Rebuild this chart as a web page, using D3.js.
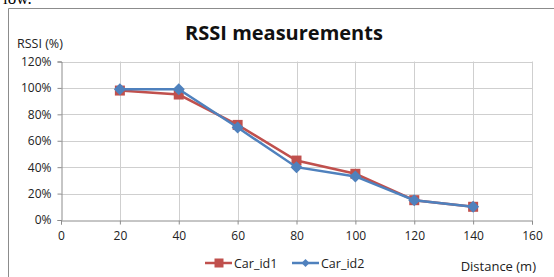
<!DOCTYPE html>
<html>
<head>
<meta charset="utf-8">
<script src="https://cdn.jsdelivr.net/npm/d3@7"></script>
<style>
  body { margin: 0; background: #fff; }
  svg { display: block; }
</style>
</head>
<body>
<div id="chart"></div>
<script>

var distances = [20, 40, 60, 80, 100, 120, 140];
var carId1 = [98, 95, 72, 45, 35, 15, 10];
var carId2 = [99, 99, 70, 40, 33, 15, 10];
var xTicks = [0, 20, 40, 60, 80, 100, 120, 140, 160];
var yTicks = [0, 20, 40, 60, 80, 100, 120];

var W = 554, H = 277;
var font = "'Open Sans', 'Liberation Sans', sans-serif";

var svg = d3.select("#chart").append("svg")
    .attr("width", W)
    .attr("height", H)

// bit of the page text above the chart, cut by the crop
svg.append("text")
    .text("low.")
    .attr("x", 3)
    .attr("y", 4)
    .attr("font-family", "'Liberation Serif', serif")
    .attr("font-size", "17px")
    .attr("fill", "#000")

// chart frame (runs off the right and bottom)
svg.append("path")
    .attr("d", "M8.5," + (H + 2) + " L8.5,8.5 L" + (W + 2) + ",8.5")
    .attr("fill", "none")
    .attr("stroke", "#8c8c8c")
    .attr("stroke-width", 1)

var x = d3.scaleLinear().domain([0, 160]).range([61, 532]);
var y = d3.scaleLinear().domain([0, 120]).range([220, 61.5]);

// grid
svg.append("g").selectAll("line.v")
    .data(xTicks.slice(1))
    .enter()
    .append("line")
    .attr("x1", function(d){ return Math.round(x(d)) + 0.5 })
    .attr("x2", function(d){ return Math.round(x(d)) + 0.5 })
    .attr("y1", y(120))
    .attr("y2", y(0))
    .attr("stroke", "#cfcfcf")

svg.append("g").selectAll("line.h")
    .data(yTicks.slice(1))
    .enter()
    .append("line")
    .attr("x1", x(0))
    .attr("x2", x(160))
    .attr("y1", function(d){ return Math.round(y(d)) + 0.5 })
    .attr("y2", function(d){ return Math.round(y(d)) + 0.5 })
    .attr("stroke", "#cfcfcf")

// axes
var yAxis = d3.axisLeft(y)
    .tickValues(yTicks)
    .tickSize(4)
    .tickPadding(6)
    .tickFormat(function(d){ return d + "%" });

var xAxis = d3.axisBottom(x)
    .tickValues(xTicks)
    .tickSize(4)
    .tickPadding(7);

var gy = svg.append("g")
    .attr("transform", "translate(" + (Math.round(x(0)) + 0.5) + ",0)")
    .call(yAxis);

var gx = svg.append("g")
    .attr("transform", "translate(0," + (Math.round(y(0)) + 0.5) + ")")
    .call(xAxis);

[gx, gy].forEach(function(g){
    g.select(".domain").attr("stroke", "#8c8c8c");
    g.selectAll(".tick line").attr("stroke", "#8c8c8c");
    g.selectAll(".tick text")
        .attr("font-family", font)
        .attr("font-size", "12px")
        .attr("fill", "#222");
});

// series
var series = [
    {name: "Car_id1", values: carId1, color: "#C0504D", marker: "square"},
    {name: "Car_id2", values: carId2, color: "#4F81BD", marker: "diamond"}
];

var line = d3.line()
    .x(function(d){ return x(d[0]) })
    .y(function(d){ return y(d[1]) });

function drawMarker(g, kind, cx, cy, color){
    if(kind == "square"){
        g.append("rect")
            .attr("x", cx - 5)
            .attr("y", cy - 5)
            .attr("width", 10)
            .attr("height", 10)
            .attr("fill", color)
    } else {
        g.append("path")
            .attr("d", "M" + cx + "," + (cy - 6) + " L" + (cx + 6) + "," + cy +
                       " L" + cx + "," + (cy + 6) + " L" + (cx - 6) + "," + cy + "Z")
            .attr("fill", color)
    }
}

series.forEach(function(s){
    var pts = distances.map(function(d, i){ return [d, s.values[i]] });
    var g = svg.append("g");
    g.append("path")
        .attr("d", line(pts))
        .attr("fill", "none")
        .attr("stroke", s.color)
        .attr("stroke-width", 2.5)
    pts.forEach(function(p){
        drawMarker(g, s.marker, x(p[0]), y(p[1]), s.color);
    });
});

// title and axis labels
svg.append("text")
    .text("RSSI measurements")
    .attr("x", 284)
    .attr("y", 40)
    .attr("text-anchor", "middle")
    .attr("font-family", font)
    .attr("font-size", "20px")
    .attr("font-weight", "bold")
    .attr("fill", "#111")

svg.append("text")
    .text("RSSI (%)")
    .attr("x", 17)
    .attr("y", 48)
    .attr("font-family", font)
    .attr("font-size", "12.5px")
    .attr("fill", "#222")

svg.append("text")
    .text("Distance (m)")
    .attr("x", 536)
    .attr("y", 271)
    .attr("text-anchor", "end")
    .attr("font-family", font)
    .attr("font-size", "13px")
    .attr("fill", "#222")

// legend
var legendX = [205, 292];
series.forEach(function(s, i){
    var lg = svg.append("g");
    var lx = legendX[i], ly = 263;
    lg.append("line")
        .attr("x1", lx)
        .attr("x2", lx + 27)
        .attr("y1", ly)
        .attr("y2", ly)
        .attr("stroke", s.color)
        .attr("stroke-width", 2.5)
    if(s.marker == "square"){
        lg.append("rect")
            .attr("x", lx + 9.5).attr("y", ly - 4.5)
            .attr("width", 9).attr("height", 9)
            .attr("fill", s.color)
    } else {
        lg.append("path")
            .attr("d", "M" + (lx + 13.5) + "," + (ly - 4) + " l4,4 l-4,4 l-4,-4Z")
            .attr("fill", s.color)
    }
    lg.append("text")
        .text(s.name)
        .attr("x", lx + 29)
        .attr("y", ly + 4.5)
        .attr("font-family", font)
        .attr("font-size", "12.5px")
        .attr("fill", "#222")
});

</script>
</body>
</html>
